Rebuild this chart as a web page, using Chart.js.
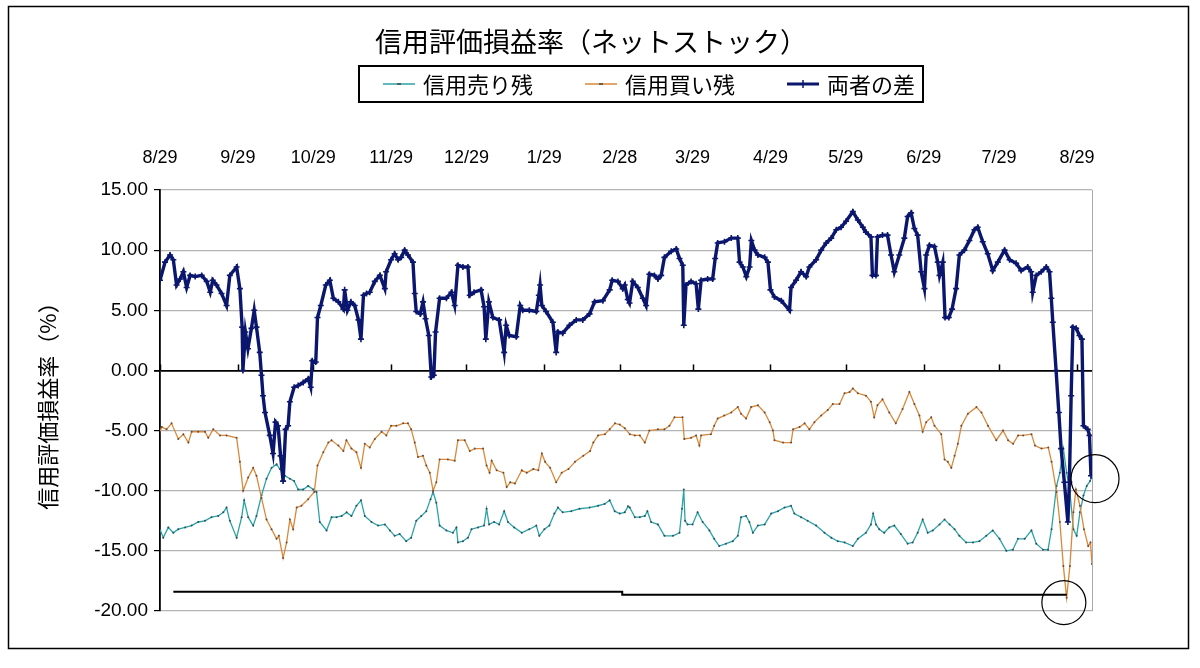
<!DOCTYPE html>
<html>
<head>
<meta charset="utf-8">
<script src="https://cdn.jsdelivr.net/npm/chart.js@4"></script>
<style>
  body { margin: 0; background: #fff; }
  #wrap { width: 1200px; height: 668px; }
</style>
</head>
<body>
<div id="wrap"><canvas id="netChart" width="1200" height="668"></canvas></div>
<script>
// month labels on the top axis (days counted from 8/29)
var tickDays = [0, 31, 61, 92, 122, 153, 183, 212, 243, 273, 304, 334, 365];
var tickLabels = ['8/29', '9/29', '10/29', '11/29', '12/29', '1/29', '2/28', '3/29', '4/29', '5/29', '6/29', '7/29', '8/29'];

var chartTitle = '信用評価損益率（ネットストック）';

// 両者の差
var diffDays = [0, 2, 4, 5.3, 6.6, 8, 9.3, 10.6, 12, 14, 16.6, 18.6, 20, 21, 22.5, 24.5, 26.5, 27.8, 30.5, 31.8,
  32.7, 33, 34, 35, 36.4, 37.5, 38.4, 39.7, 40.4, 41, 41.8, 43.7, 45, 46, 47, 48, 49, 50, 51, 51.7,
  53.4, 55, 57, 59, 60, 60.6, 62, 62.7, 64, 66, 67.6, 69, 71, 73, 73.5, 74.6, 76, 77.5, 79, 80,
  81, 82.2, 83.5, 85.5, 87.5, 89.5, 90, 92, 93.4, 94.8, 96, 97.4, 98.7, 100.7, 101.4, 102, 103.6, 104.7, 105.7, 107,
  108, 109, 109.7, 111.3, 114, 116, 117.3, 118.6, 120.6, 122.6, 123.3, 125, 127.8, 129, 129.7, 130.9, 132.5, 135, 137, 137.8,
  139, 141.8, 143.4, 144.4, 147, 149.8, 150.8, 151.3, 152, 153.7, 156.4, 157.7, 158.4, 160.3, 163, 165.7, 168.3, 171, 173, 176.3,
  179, 180, 182.3, 184.2, 185, 186.2, 186.9, 188.2, 190.2, 192.2, 193.5, 194.8, 196.8, 198.2, 199.5, 200.8, 203.5, 205.5, 206.8, 208.1,
  208.5, 209.4, 211.4, 213.4, 214.3, 215.4, 218, 220, 221, 222, 224.7, 227.4, 230, 230.7, 232, 233.4, 234.7, 235.4, 236.7, 238,
  240.7, 242, 243, 244.6, 247.3, 250.6, 251.2, 253.2, 255.2, 257.2, 258.5, 261.2, 263.2, 265.2, 267.2, 269.2, 271.1, 273.1, 275.8, 277.8,
  279.8, 281, 283, 283.6, 285, 285.6, 287.6, 289.6, 291, 292.3, 294.3, 296.3, 297.6, 299, 300.3, 301.6, 303, 304.3, 305, 306.3,
  308.3, 309.6, 310.3, 311.6, 312.5, 314, 315.3, 316.9, 318.2, 320.2, 322.2, 324.2, 325.5, 327.5, 329.5, 331.5, 333.5, 336.2, 338.2, 340.8,
  342.8, 345.4, 346.8, 347.4, 348.8, 350.8, 352.8, 354.1, 354.8, 355.4, 356.7, 357.8, 358.7, 360, 361.4, 362, 362.7, 363.4, 364.7, 366,
  367, 367.6, 369.3, 370, 370.6];
var diffVals = [7.5, 9.0, 9.6, 9.2, 7.1, 7.6, 8.2, 6.9, 7.9, 7.8, 7.9, 7.4, 6.5, 7.5, 7.1, 6.4, 5.4, 7.9, 8.6, 6.8,
  3.6, 0, 3.2, 1.8, 3.5, 5.0, 3.6, 1.5, -0.4, -2.1, -3.5, -5.4, -6.9, -4.3, -4.6, -7.1, -9.2, -4.9, -4.6, -2.6,
  -1.4, -1.25, -1.0, -0.7, -1.4, 0.8, 0.7, 4.4, 5.4, 7.1, 7.5, 6.0, 5.7, 5.1, 6.7, 5.0, 5.7, 5.4, 4.2, 2.6,
  6.25, 6.4, 6.5, 7.4, 7.9, 6.8, 8.2, 9.2, 9.7, 9.2, 9.4, 10.0, 9.6, 9.0, 6.4, 4.9, 4.7, 5.7, 4.3, 2.9,
  -0.55, -0.4, 3.2, 6.0, 6.0, 6.5, 5.4, 8.75, 8.6, 8.6, 6.25, 6.5, 6.7, 5.3, 2.6, 5.7, 4.4, 4.2, 1.5, 3.75,
  2.9, 2.8, 5.4, 5.0, 5.0, 4.9, 6.25, 7.1, 5.4, 4.9, 4.0, 1.5, 3.2, 3.1, 3.75, 4.2, 4.2, 4.7, 5.7, 5.8,
  6.7, 7.5, 7.4, 6.8, 7.1, 5.9, 5.6, 7.4, 6.9, 6.0, 5.4, 8.0, 7.9, 7.6, 7.9, 9.4, 9.9, 10.1, 9.3, 8.75,
  3.75, 7.1, 7.4, 7.2, 5.1, 7.5, 7.6, 7.6, 9.3, 10.6, 10.7, 11.0, 11.0, 9.0, 8.6, 7.8, 8.6, 10.8, 10.0, 9.6,
  9.4, 9.0, 6.7, 6.1, 5.8, 5.0, 6.9, 7.5, 8.2, 7.8, 8.6, 9.2, 10.0, 10.6, 11.0, 11.7, 11.9, 12.4, 13.2, 12.5,
  11.9, 11.5, 11.1, 7.9, 7.9, 11.1, 11.25, 11.25, 9.6, 8.2, 9.6, 11.0, 12.8, 13.1, 11.8, 11.25, 8.2, 6.8, 9.6, 10.4,
  10.3, 9.0, 7.9, 9.0, 4.4, 4.4, 5.1, 6.8, 9.6, 10.0, 10.8, 11.7, 11.9, 10.7, 9.7, 8.3, 9.0, 10.0, 9.2, 8.9,
  8.3, 8.6, 8.2, 6.5, 7.9, 8.2, 8.6, 8.2, 6.0, 4.0, 0, -3.5, -6.5, -9.3, -12.6, -9.3, -2.1, 3.6, 3.5, 2.9,
  2.6, -4.6, -4.9, -5.4, -8.75];

// 信用売り残
var sellDays = [0, 1.3, 3.3, 5.3, 7.3, 10, 12.6, 15.2, 17.9, 20.5, 23.2, 25.2, 26.5, 27.8, 30.5, 32.5, 33.5, 35.1, 37.1, 38.4,
  40.4, 42.4, 44.4, 46.4, 47.7, 49.7, 51.7, 53.4, 55, 57, 59, 61, 62.3, 63.6, 66.3, 68.3, 70.3, 72.3, 74.3, 76.2,
  78.2, 80, 81.5, 84.2, 86.8, 89.5, 91.5, 93.4, 95.4, 98, 100, 102, 104, 106, 107.7, 108.7, 110, 111.3, 114, 116.6,
  118, 118.6, 120.6, 122.6, 124, 126.6, 129, 130, 131, 133, 135, 137, 138.5, 141, 144, 147, 149.8, 151, 153, 155,
  157, 158.4, 160.3, 163.7, 167, 171, 174.4, 177, 179, 181, 183, 185, 186.3, 187, 189, 191, 193, 194, 195.5, 198.2,
  200.8, 204.2, 206.8, 207.8, 208.5, 209, 210, 212, 214, 216, 218.7, 220.6, 222.6, 225.3, 228, 230, 231.3, 233.3, 234.6, 236,
  238, 240.7, 243.3, 246, 248.6, 251.2, 252.5, 255.2, 257.8, 261.2, 264.5, 267.2, 269.8, 272.5, 275.8, 277.8, 281, 283, 283.9, 285,
  286.3, 288.3, 290.3, 292.3, 294.9, 297.6, 299.6, 301.6, 303.6, 305.6, 307.6, 310.3, 312.3, 314.3, 316.3, 318.2, 320.9, 323.6, 326.2, 328.9,
  331.5, 334.2, 336.9, 339.5, 341.5, 344.2, 346.9, 348.8, 351.5, 353.5, 354.9, 356.9, 358.2, 359.6, 360.9, 362.2, 363.6, 364.9, 366.2, 367.6,
  368.9, 370.2, 370.8];
var sellVals = [-13.2, -13.9, -13.05, -13.5, -13.2, -13.05, -12.9, -12.6, -12.5, -12.2, -12.1, -11.8, -11.4, -12.5, -13.9, -12.2, -10.8, -12.2, -12.9, -12.1,
  -10.4, -9.0, -8.1, -7.8, -8.2, -8.75, -9.0, -9.2, -9.9, -9.9, -9.6, -9.9, -10.1, -12.6, -13.3, -12.2, -12.2, -12.1, -11.8, -12.1,
  -11.25, -10.8, -12.1, -12.6, -12.9, -12.8, -13.3, -13.75, -13.6, -14.2, -13.9, -12.5, -12.1, -11.7, -10.7, -10.1, -11.0, -12.9, -13.3, -13.5,
  -13.05, -14.3, -14.2, -13.9, -13.2, -13.05, -12.9, -11.5, -12.8, -12.6, -12.8, -11.7, -12.6, -13.05, -13.5, -13.2, -12.9, -13.75, -13.2, -12.9,
  -11.9, -11.4, -11.8, -11.7, -11.5, -11.4, -11.25, -11.1, -10.8, -11.7, -11.9, -11.8, -11.3, -11.4, -12.2, -12.2, -12.1, -11.7, -12.6, -12.8,
  -13.75, -13.75, -13.5, -11.5, -9.9, -12.5, -12.8, -12.8, -11.8, -12.6, -13.3, -14.0, -14.6, -14.4, -14.2, -13.75, -12.2, -12.1, -12.6, -13.5,
  -12.9, -12.8, -11.9, -11.7, -11.4, -11.25, -11.9, -12.2, -12.5, -12.9, -13.5, -13.9, -14.2, -14.3, -14.6, -14.0, -13.5, -12.8, -11.9, -12.8,
  -13.2, -13.5, -13.05, -12.9, -13.6, -14.4, -14.3, -13.5, -12.4, -13.5, -13.3, -12.8, -12.4, -12.8, -13.2, -13.75, -14.3, -14.3, -14.2, -13.75,
  -13.3, -14.0, -15.0, -14.9, -14.0, -14.0, -13.3, -14.4, -14.9, -14.9, -13.2, -9.6, -8.5, -6.5, -8.5, -10.1, -13.2, -13.75, -11.8, -10.4,
  -9.6, -9.2, -8.9];

// 信用買い残
var buyDays = [0, 0.7, 2.6, 4.6, 7.3, 9.3, 11.3, 12.6, 15.2, 17.9, 19.2, 21.2, 23.9, 26.5, 30.5, 31.8, 33.1, 35.1, 37.1, 38.4,
  40.4, 42.4, 44.4, 46.4, 47.3, 49, 50.4, 51.7, 53, 54.4, 56.3, 59, 61.4, 62.7, 65, 67, 68.3, 71, 73, 74.2,
  76.2, 78.2, 80, 81.5, 83.5, 85.5, 88.2, 90.1, 92, 94.1, 96.8, 98.7, 100, 101.4, 102.7, 104.7, 106, 107.4, 108.7, 110,
  111.3, 114.6, 117.3, 118.6, 121.3, 123.3, 125.3, 128.6, 130, 131.2, 132, 134, 136.7, 138, 139.4, 141.3, 144, 146, 148.6, 150.6,
  152, 153.3, 155.3, 157.7, 159.9, 162.6, 165.2, 168.5, 171.2, 172.5, 174.4, 177.1, 179, 181.1, 183, 185, 187, 189, 191, 193,
  194.8, 198.2, 200.8, 202.8, 204.8, 208, 208.7, 211.4, 213.4, 214.7, 215.4, 219.3, 220.6, 222, 224.6, 227.4, 230, 231.3, 233.3, 235.3,
  238, 240.7, 242.7, 244, 244.6, 248, 251.2, 252, 254.6, 256.6, 258.5, 260.5, 263.2, 265.8, 267.8, 270.5, 272.5, 274.5, 275.8, 277.8,
  281, 283, 284.3, 285.6, 287.6, 290.3, 292.9, 295.6, 298.3, 300.3, 302.3, 303.6, 305, 307, 308.3, 311, 312.3, 313.6, 315, 316.3,
  317.6, 319, 321.6, 325, 327, 329.6, 332.9, 335.6, 337.6, 339.6, 341.6, 343.6, 346.9, 348.3, 350.9, 353.6, 354.9, 356.9, 358.2, 359.6,
  360.9, 362.2, 363.6, 364.6, 366.2, 367.8, 369.5, 370.4, 371];
var buyVals = [-5.1, -4.7, -4.9, -4.4, -5.7, -5.3, -6.0, -5.1, -5.1, -5.1, -5.6, -4.9, -5.4, -5.4, -5.6, -7.6, -10.0, -8.9, -8.1, -8.75,
  -10.6, -12.4, -13.2, -14.0, -13.75, -15.6, -14.3, -12.4, -13.2, -11.4, -11.25, -10.7, -10.1, -7.9, -6.8, -6.0, -5.8, -6.25, -6.7, -5.8,
  -6.5, -6.8, -8.1, -6.1, -6.4, -5.7, -5.1, -5.4, -4.6, -4.6, -4.4, -4.4, -4.9, -6.0, -7.2, -7.1, -7.9, -8.5, -10.0, -9.3,
  -7.4, -7.4, -7.5, -5.8, -5.8, -6.7, -6.5, -6.5, -7.9, -8.5, -7.5, -8.3, -8.5, -9.7, -9.3, -9.4, -8.3, -8.5, -8.2, -8.3,
  -6.9, -7.6, -8.1, -9.3, -8.5, -8.2, -7.6, -7.1, -6.7, -6.0, -5.4, -5.3, -4.9, -4.4, -4.5, -4.8, -5.3, -5.4, -5.4, -6.0,
  -5.0, -4.9, -4.9, -4.6, -3.9, -3.9, -5.7, -5.6, -5.4, -6.25, -5.4, -5.3, -4.6, -4.0, -3.75, -3.5, -3.05, -3.6, -4.0, -3.05,
  -2.9, -3.5, -4.3, -5.0, -5.8, -6.0, -6.0, -4.9, -4.7, -4.4, -4.9, -4.3, -3.75, -3.3, -2.8, -2.8, -1.9, -1.8, -1.5, -1.9,
  -2.1, -2.6, -3.9, -2.9, -2.4, -3.5, -4.4, -3.2, -1.8, -2.8, -3.75, -5.1, -4.3, -3.9, -4.6, -5.3, -7.4, -7.6, -8.1, -7.1,
  -6.1, -4.6, -3.6, -3.05, -3.5, -4.6, -5.8, -5.0, -5.8, -6.1, -5.4, -5.4, -5.3, -6.25, -6.5, -6.4, -7.6, -10.1, -12.6, -16.25,
  -18.9, -16.25, -11.8, -9.9, -11.25, -13.2, -14.6, -14.3, -16.1];

// hand-drawn black rule near the bottom and the two circles
var ruleDays = [5.3, 184, 184, 361];
var ruleVals = [-18.4, -18.4, -18.65, -18.65];
var ringDays = [372.2, 359.8];
var ringVals = [-9.0, -19.3];

function pts(days, vals) {
  return days.map(function(d, i) { return { x: d, y: vals[i] }; });
}

var jpFont = '"Noto Sans CJK JP", "Liberation Sans", sans-serif';
var numFont = '"Liberation Sans", Arial, sans-serif';

var framePlugin = {
  id: 'framePlugin',
  beforeDraw: function(chart) {
    var c = chart.ctx;
    c.save();
    c.fillStyle = '#fff';
    c.fillRect(0, 0, chart.width, chart.height);
    c.strokeStyle = '#000';
    c.lineWidth = 1.5;
    c.strokeRect(8.5, 6.5, 1180, 642);
    c.restore();
  },
  beforeDatasetsDraw: function(chart) {
    var c = chart.ctx, a = chart.chartArea;
    var xs = chart.scales.x, ys = chart.scales.y;
    c.save();
    // right edge of plot
    c.strokeStyle = '#a8a8a8';
    c.lineWidth = 1;
    c.beginPath();
    c.moveTo(a.right + 0.5, a.top);
    c.lineTo(a.right + 0.5, a.bottom);
    c.stroke();
    // tick marks on the zero line
    var y0 = ys.getPixelForValue(0);
    c.strokeStyle = '#000';
    c.lineWidth = 1.5;
    tickDays.forEach(function(d) {
      var px = Math.round(xs.getPixelForValue(d)) + 0.5;
      c.beginPath();
      c.moveTo(px, y0);
      c.lineTo(px, y0 - 6);
      c.stroke();
    });
    c.restore();
  },
  afterDraw: function(chart) {
    var c = chart.ctx;
    c.save();
    // title
    c.fillStyle = '#000';
    c.font = '27px ' + jpFont;
    c.textAlign = 'center';
    c.textBaseline = 'middle';
    c.fillText(chartTitle, 591, 42);

    // boxed legend under the title
    var sets = chart.data.datasets.slice(0, 3);
    c.font = '22px ' + jpFont;
    var sample = 32, gap = 8, between = 52, padL = 24, padR = 8;
    var widths = sets.map(function(d) { return c.measureText(d.label).width; });
    var total = padL + padR + between * 2;
    widths.forEach(function(w) { total += sample + gap + w; });
    var left = 641 - total / 2, top = 66, h = 36, cy = top + h / 2;
    c.fillStyle = '#fff';
    c.fillRect(left, top, total, h);
    c.strokeStyle = '#000';
    c.lineWidth = 2;
    c.strokeRect(left, top, total, h);
    var x = left + padL;
    sets.forEach(function(d, i) {
      c.strokeStyle = d.borderColor;
      c.lineWidth = i === 2 ? 3 : 1.5;
      c.beginPath();
      c.moveTo(x, cy);
      c.lineTo(x + sample, cy);
      c.stroke();
      c.lineWidth = 1.5;
      c.beginPath();
      if (i === 2) {
        c.moveTo(x + sample / 2, cy - 4);
        c.lineTo(x + sample / 2, cy + 4);
      } else {
        c.moveTo(x + sample / 2 - 2, cy);
        c.lineTo(x + sample / 2 + 2, cy);
      }
      c.strokeStyle = i === 2 ? d.borderColor : '#444';
      c.stroke();
      c.fillStyle = '#000';
      c.textAlign = 'left';
      c.textBaseline = 'middle';
      c.fillText(d.label, x + sample + gap, cy + 1);
      x += sample + gap + widths[i] + between;
    });
    c.restore();
  }
};

var ctx = document.getElementById('netChart').getContext('2d');
var netChart = new Chart(ctx, {
  type: 'line',
  data: {
    datasets: [{
      label: '信用売り残',
      data: pts(sellDays, sellVals),
      borderColor: '#2ba3a6',
      backgroundColor: '#2ba3a6',
      borderWidth: 1.3,
      pointRadius: 1,
      pointBackgroundColor: '#2f4f5f',
      pointBorderWidth: 0,
      order: 3
    }, {
      label: '信用買い残',
      data: pts(buyDays, buyVals),
      borderColor: '#d8893a',
      backgroundColor: '#d8893a',
      borderWidth: 1.3,
      pointRadius: 1,
      pointBackgroundColor: '#6a4a3a',
      pointBorderWidth: 0,
      order: 2
    }, {
      label: '両者の差',
      data: pts(diffDays, diffVals),
      borderColor: '#0b176e',
      backgroundColor: '#0b176e',
      borderWidth: 3.4,
      pointStyle: 'cross',
      pointRadius: 3,
      pointBorderWidth: 1.6,
      pointBorderColor: '#0b176e',
      order: 1
    }, {
      label: 'rule',
      data: pts(ruleDays, ruleVals),
      borderColor: '#000',
      borderWidth: 2,
      pointRadius: 0,
      order: 0
    }, {
      type: 'scatter',
      label: 'rings',
      data: pts(ringDays, ringVals),
      showLine: false,
      pointRadius: [24, 22],
      pointStyle: 'circle',
      pointBackgroundColor: 'rgba(0,0,0,0)',
      pointBorderColor: '#000',
      pointBorderWidth: 1.2,
      clip: false,
      order: 0
    }]
  },
  options: {
    responsive: false,
    animation: false,
    layout: { padding: { left: 0, right: 108, top: 0, bottom: 57 } },
    elements: { line: { tension: 0 } },
    plugins: {
      legend: { display: false },
      tooltip: { enabled: false },
      title: { display: false }
    },
    scales: {
      x: {
        type: 'linear',
        position: 'top',
        min: 0,
        max: 371,
        afterBuildTicks: function(scale) {
          scale.ticks = tickDays.map(function(d) { return { value: d }; });
        },
        afterFit: function(scale) { scale.height = 190; },
        grid: { display: false, drawTicks: false },
        border: { display: false },
        ticks: {
          autoSkip: false,
          maxRotation: 0,
          padding: 21,
          color: '#000',
          font: { family: numFont, size: 18 },
          callback: function(value, index) { return tickLabels[index]; }
        }
      },
      y: {
        min: -20,
        max: 15,
        afterFit: function(scale) { scale.width = 160; },
        grid: {
          color: function(c) { return c.tick && c.tick.value === 0 ? '#000' : '#b4b4b4'; },
          lineWidth: function(c) { return c.tick && c.tick.value === 0 ? 1.8 : 1.2; },
          tickColor: '#000',
          tickLength: 6
        },
        border: { color: '#000', width: 1.8 },
        ticks: {
          stepSize: 5,
          padding: 6,
          color: '#000',
          font: { family: numFont, size: 19 },
          callback: function(v) { return v.toFixed(2); }
        },
        title: {
          display: true,
          text: '信用評価損益率（%）',
          color: '#000',
          font: { family: jpFont, size: 22 },
          padding: { top: 34, bottom: 0 }
        }
      }
    }
  },
  plugins: [framePlugin]
});
</script>
</body>
</html>
